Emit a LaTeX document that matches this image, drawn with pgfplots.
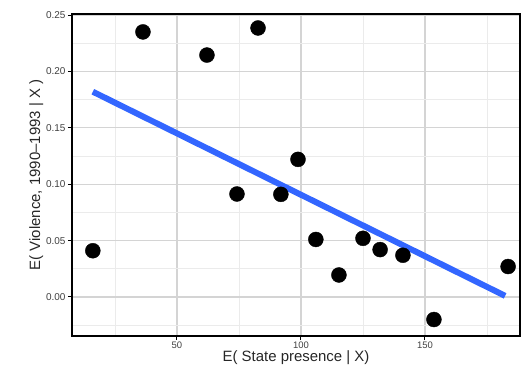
\documentclass[border=0pt]{standalone}
\usepackage{pgfplots}
\pgfplotsset{compat=1.18}
\usepackage{fontspec}
\setmainfont{Liberation Sans}
\definecolor{smoothblue}{HTML}{3366FF}
\definecolor{gmaj}{HTML}{D4D4D4}
\definecolor{gmin}{HTML}{EBEBEB}
\begin{document}
\begin{tikzpicture}[x=1bp,y=1bp]
\begin{axis}[
  scale only axis,
  width=448bp, height=322bp,
  xmin=7.7, xmax=188.3,
  ymin=-0.0346, ymax=0.2509,
  xtick={50,100,150},
  ytick={0,0.05,0.10,0.15,0.20,0.25},
  minor xtick={25,75,125,175},
  minor ytick={-0.025,0.025,0.075,0.125,0.175,0.225},
  grid=both,
  major grid style={gmaj, line width=1.3bp},
  minor grid style={gmin, line width=0.8bp},
  axis line style={black, line width=1.4bp},
  tick style={black, line width=1bp},
  major tick length=4bp,
  minor tick length=0pt,
  tick align=outside,
  xtick pos=bottom, ytick pos=left,
  /pgf/number format/assume math mode=true,
  yticklabel style={/pgf/number format/fixed, /pgf/number format/fixed zerofill, /pgf/number format/precision=2, font=\fontsize{10}{11}\selectfont, text=black!75, xshift=1bp},
  xticklabel style={font=\fontsize{9.5}{10}\selectfont, text=black!75, yshift=2bp},
  scaled y ticks=false,
  xlabel={E( State presence | X)},
  ylabel={E( Violence, 1990–1993 | X )},
  label style={font=\fontsize{15}{17}\selectfont, text=black!85},
  xlabel style={yshift=4bp},
  ylabel style={yshift=-4bp},
  clip=false,
]
\addplot[smoothblue, line width=6bp, line cap=butt] coordinates {(16.1,0.182) (182.3,0.001)};
\addplot[only marks, mark=*, mark size=7.5bp, black] coordinates {
(16.1,0.041) (36.3,0.235) (62.1,0.2145) (82.7,0.2385) (74.2,0.0913)
(98.8,0.122) (91.9,0.091) (106.0,0.051) (115.3,0.0195) (125.0,0.052)
(131.9,0.042) (141.1,0.037) (153.6,-0.020) (183.5,0.027)};
\end{axis}
\pgfresetboundingbox
\path (current axis.south west)++(-72bp,-38bp) coordinate (bl);
\path (current axis.north east)++(5bp,14bp) coordinate (tr);
\path[use as bounding box] (bl) rectangle (tr);
\end{tikzpicture}
\end{document}
